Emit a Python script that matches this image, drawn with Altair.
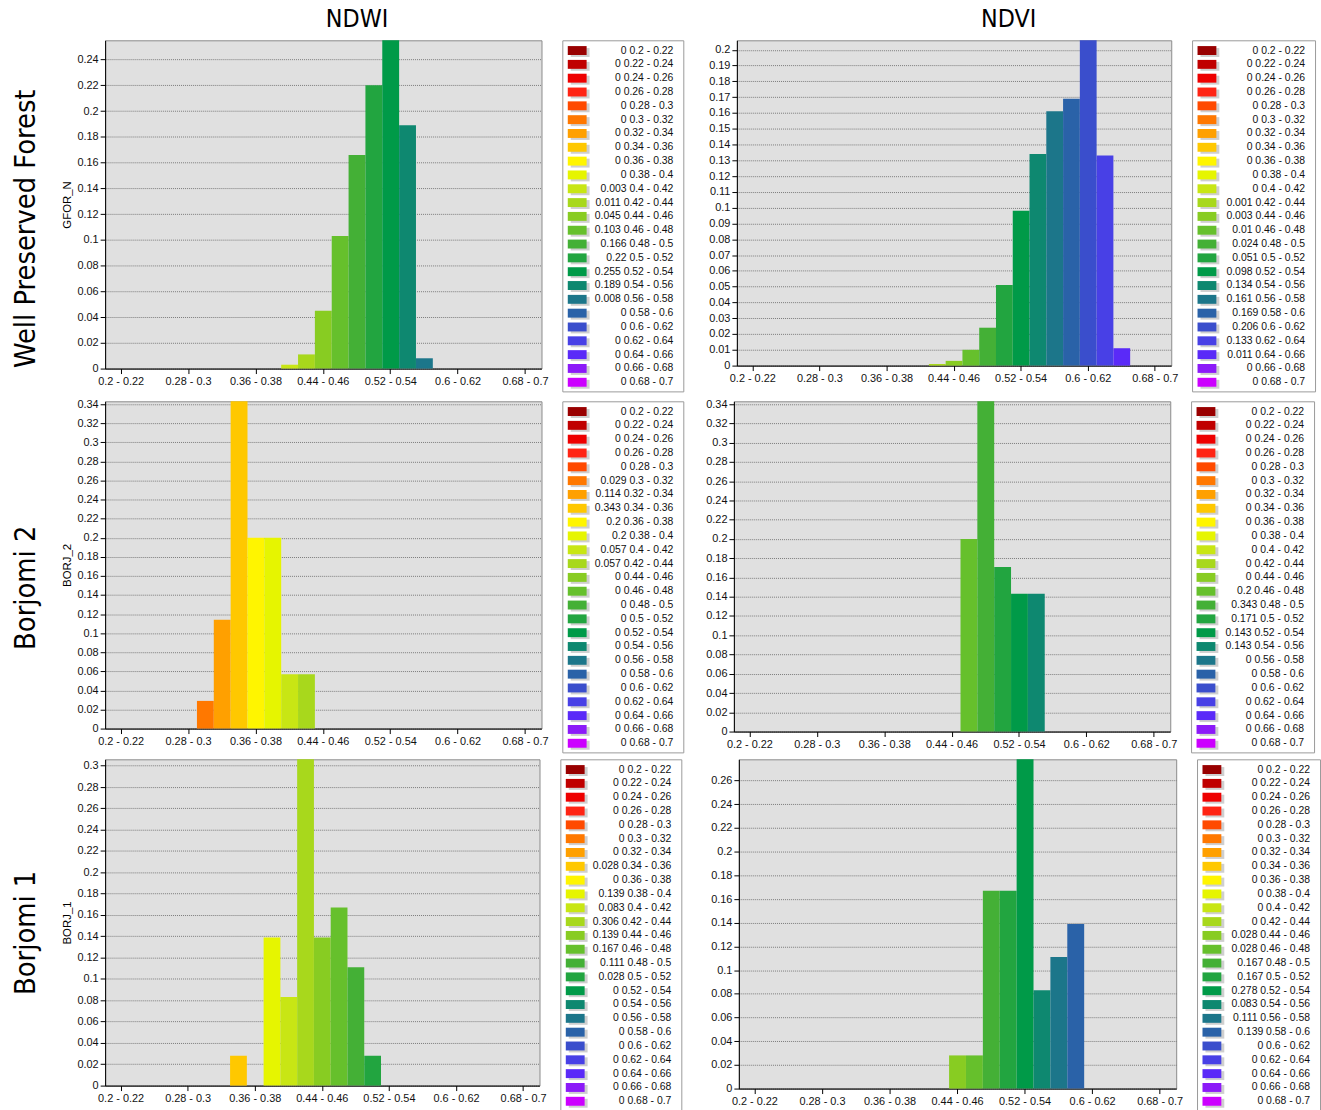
import altair as alt
import pandas as pd

# ---------------- data ----------------
bins = ["0.2 - 0.22", "0.22 - 0.24", "0.24 - 0.26", "0.26 - 0.28", "0.28 - 0.3",
        "0.3 - 0.32", "0.32 - 0.34", "0.34 - 0.36", "0.36 - 0.38", "0.38 - 0.4",
        "0.4 - 0.42", "0.42 - 0.44", "0.44 - 0.46", "0.46 - 0.48", "0.48 - 0.5",
        "0.5 - 0.52", "0.52 - 0.54", "0.54 - 0.56", "0.56 - 0.58", "0.58 - 0.6",
        "0.6 - 0.62", "0.62 - 0.64", "0.64 - 0.66", "0.66 - 0.68", "0.68 - 0.7"]

colors = ["#990000", "#c00000", "#ee0000", "#ff2414", "#ff4a00",
          "#ff7800", "#ffa000", "#ffc800", "#fff500", "#e6f500",
          "#c8e614", "#a8d81c", "#88cc22", "#66c02c", "#44b036",
          "#22a540", "#009a48", "#0e8870", "#1c768a", "#2a62a8",
          "#3a4ecc", "#4840e6", "#5a2af8", "#8c1af8", "#cc00ff"]

ndwi_forest = [0, 0, 0, 0, 0, 0, 0, 0, 0, 0,
               0.003, 0.011, 0.045, 0.103, 0.166, 0.22, 0.255, 0.189, 0.008,
               0, 0, 0, 0, 0, 0]
ndvi_forest = [0, 0, 0, 0, 0, 0, 0, 0, 0, 0, 0,
               0.001, 0.003, 0.01, 0.024, 0.051, 0.098, 0.134, 0.161, 0.169,
               0.206, 0.133, 0.011, 0, 0]
ndwi_b2 = [0, 0, 0, 0, 0,
           0.029, 0.114, 0.343, 0.2, 0.2, 0.057, 0.057,
           0, 0, 0, 0, 0, 0, 0, 0, 0, 0, 0, 0, 0]
ndvi_b2 = [0, 0, 0, 0, 0, 0, 0, 0, 0, 0, 0, 0, 0,
           0.2, 0.343, 0.171, 0.143, 0.143,
           0, 0, 0, 0, 0, 0, 0]
ndwi_b1 = [0, 0, 0, 0, 0, 0, 0,
           0.028, 0, 0.139, 0.083, 0.306, 0.139, 0.167, 0.111, 0.028,
           0, 0, 0, 0, 0, 0, 0, 0, 0]
ndvi_b1 = [0, 0, 0, 0, 0, 0, 0, 0, 0, 0, 0, 0,
           0.028, 0.028, 0.167, 0.167, 0.278, 0.083, 0.111, 0.139,
           0, 0, 0, 0, 0]

x_tick_labels = bins[::4]
row_titles = ["Well Preserved Forest", "Borjomi 2", "Borjomi 1"]
col_titles = ["NDWI", "NDVI"]
y_titles = ["GFOR_N", "BORJ_2", "BORJ_1"]

LABEL_FONT = "Liberation Sans, Arial, sans-serif"
TITLE_FONT = "Liberation Sans Narrow, DejaVu Sans Condensed, Liberation Sans, sans-serif"


def tick_values(vmax, step):
    n = int(vmax / step + 1e-9)
    return [round(i * step, 4) for i in range(n + 1)]


def hist(vals, step, width, height, extent, ytitle=None, title=None, title_dx=0):
    df = pd.DataFrame({"bin": bins, "value": vals})
    ymax = max(vals)
    yaxis_kw = dict(
        values=tick_values(ymax, step), format=".2~f",
        minExtent=extent, maxExtent=extent,
        labelFont=LABEL_FONT, labelFontSize=11, labelColor="#111111",
        labelPadding=2, tickSize=5, tickColor="#000000", domainColor="#000000",
        grid=True, gridColor="#7a7a7a", gridDash=[1, 1], gridWidth=1,
        titleFont=LABEL_FONT, titleFontSize=11.5, titleFontWeight="normal",
        titleColor="#000000", titlePadding=3, title=ytitle,
    )
    props = dict(width=width, height=height,
                 view=alt.ViewBackground(fill="#e0e0e0", stroke="#8a8a8a"))
    if title is not None:
        props["title"] = alt.TitleParams(
            text=title, font=TITLE_FONT, fontSize=25, fontWeight="normal",
            color="#000000", anchor="middle", dx=title_dx, offset=8)
    return alt.Chart(df).mark_bar().encode(
        x=alt.X("bin:N", sort=bins,
                scale=alt.Scale(paddingInner=0, paddingOuter=0.45),
                axis=alt.Axis(values=x_tick_labels, title=None, labelAngle=0,
                              labelOverlap=False, labelFont=LABEL_FONT,
                              labelFontSize=11, labelColor="#111111",
                              labelPadding=2, tickSize=5, tickColor="#000000",
                              domainColor="#000000", grid=False)),
        y=alt.Y("value:Q", scale=alt.Scale(domain=[0, ymax], nice=False, zero=True),
                axis=alt.Axis(**yaxis_kw)),
        color=alt.Color("bin:N", scale=alt.Scale(domain=bins, range=colors), legend=None),
    ).properties(**props)


def legend(vals, width, height=354):
    labels = [f"{v:g} {b}" for v, b in zip(vals, bins)]
    df = pd.DataFrame({"bin": bins, "label": labels})
    y = alt.Y("bin:N", sort=bins, axis=None,
              scale=alt.Scale(paddingInner=0, paddingOuter=0.2, align=0.6))
    shadow = alt.Chart(df).mark_tick(
        orient="horizontal", size=19, thickness=9, color="#cfcfcf",
        opacity=1, xOffset=2, yOffset=2
    ).encode(x=alt.value(16), y=y)
    swatch = alt.Chart(df).mark_tick(
        orient="horizontal", size=19, thickness=9, opacity=1
    ).encode(x=alt.value(15), y=y,
             color=alt.Color("bin:N", scale=alt.Scale(domain=bins, range=colors),
                             legend=None))
    text = alt.Chart(df).mark_text(
        align="right", baseline="middle", font=LABEL_FONT, fontSize=10.5,
        color="#111111"
    ).encode(x=alt.value(width - 10), y=y, text="label:N")
    return alt.layer(shadow, swatch, text).properties(
        width=width, height=height,
        view=alt.ViewBackground(fill="white", stroke="#9a9a9a"))


def row_label(text, ypos, height=354):
    df = pd.DataFrame({"t": [text]})
    return alt.Chart(df).mark_text(
        angle=270, font=TITLE_FONT, fontSize=29, color="#000000",
        align="center", baseline="middle"
    ).encode(text="t:N", x=alt.value(25), y=alt.value(ypos)).properties(
        width=47, height=height,
        view=alt.ViewBackground(fill="transparent", stroke="transparent"))


row1 = alt.hconcat(
    row_label(row_titles[0], 190),
    hist(ndwi_forest, 0.02, 440, 331, 30, y_titles[0], col_titles[0], 34),
    legend(ndwi_forest, 122),
    hist(ndvi_forest, 0.01, 438, 328, 40, None, col_titles[1], 55),
    legend(ndvi_forest, 124),
    spacing=12,
)
row2 = alt.hconcat(
    row_label(row_titles[1], 188),
    hist(ndwi_b2, 0.02, 440, 330, 30, y_titles[1]),
    legend(ndwi_b2, 122),
    hist(ndvi_b2, 0.02, 440, 333, 37, None),
    legend(ndvi_b2, 124),
    spacing=12,
)
row3 = alt.hconcat(
    row_label(row_titles[2], 175),
    hist(ndwi_b1, 0.02, 438, 329, 30, y_titles[2]),
    legend(ndwi_b1, 122),
    hist(ndvi_b1, 0.02, 441, 332, 44, None),
    legend(ndvi_b1, 124),
    spacing=12,
)

chart = alt.vconcat(row1, row2, row3, spacing=5).properties(
    padding={"left": 0, "top": 2, "right": 0, "bottom": 0},
    background="white",
)

chart.save("out.html", embed_options={"renderer": "svg", "actions": False})
